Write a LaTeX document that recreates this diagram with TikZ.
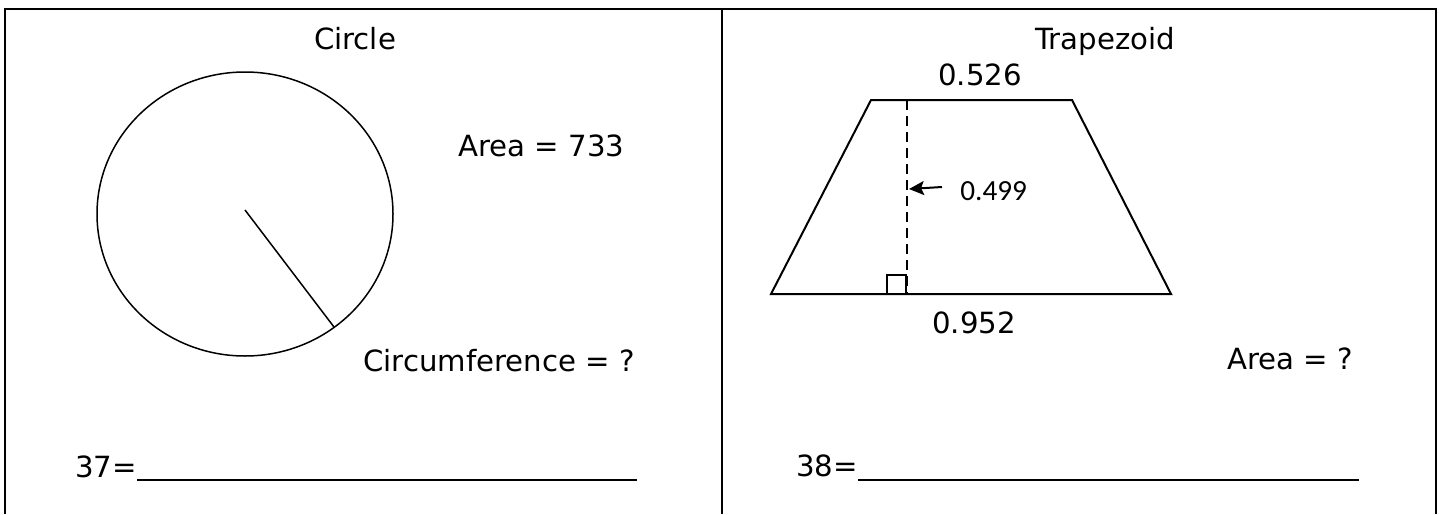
\documentclass[tikz,border=0pt]{standalone}
\usepackage{fontspec}
\setmainfont{DejaVu Sans}
\newfontfamily\labelfont{Carlito}
\usetikzlibrary{arrows.meta}
\begin{document}
\begin{tikzpicture}[x=0.5pt,y=-0.5pt]
    \tikzset{txt/.style = {inner sep = 0pt, font = \fontsize{14.6}{17}\selectfont}, edge/.style = {line width=1pt}, blank/.style = {line width=.75pt}}
    \useasboundingbox (0,0) rectangle (1439,514);
    \def\rx{148}
    \def\ry{142}
    % frame
    \draw[edge] (5,514) -- (5,9) -- (1436,9) -- (1436,514);
    \draw[edge] (722,9) -- (722,514);
    % circle panel
    \node[txt,anchor=base] (ctitle) at (355,49) {Circle};
    \coordinate (O) at (245,210);
    \draw[blank] (245,214) ellipse [x radius=\rx, y radius=\ry];
    \coordinate (R) at (334,327);
    \draw[blank] (O) -- (R);
    \node[txt,anchor=base west] (carea) at (458,156) {Area = 733};
    \node[txt,anchor=base west] (circ) at (363,371) {Circumference = ?};
    \node[txt,anchor=base west] (q37) at (75,477) {37=};
    \coordinate (q37end) at (637,480);
    \draw[blank] (q37.base east |- q37end) -- (q37end);
    % trapezoid panel
    \node[txt,anchor=base] (ttitle) at (1105,49) {Trapezoid};
    \node[txt,anchor=base] (top) at (980,85) {0.526};
    \coordinate (A) at (771,294);
    \coordinate (B) at (1171,294);
    \coordinate (C) at (1072,100);
    \coordinate (D) at (871,100);
    \draw[edge] (A) -- (B) -- (C) -- (D) -- cycle;
    \coordinate (H1) at (907,100);
    \coordinate (H2) at (907,294);
    \draw[edge,dashed,dash pattern=on 5pt off 3pt] (H1) -- (H2);
    \draw[edge] (887,294) rectangle (906,275);
    \node[inner sep=0pt,anchor=base west,font=\labelfont\fontsize{14.6}{17}\selectfont] (h) at (960,200) {0.499};
    \coordinate (P) at (942,187);
    \coordinate (Q) at (909,189);
    \draw[edge,-{Stealth[length=7.5pt,width=7pt,inset=1.5pt]}] (P) -- (Q);
    \node[txt,anchor=base] (bottom) at (974,333) {0.952};
    \node[txt,anchor=base west] (tarea) at (1227,369) {Area = ?};
    \node[txt,anchor=base west] (q38) at (796,476) {38=};
    \coordinate (q38end) at (1359,480);
    \draw[blank] (q38.base east |- q38end) -- (q38end);
\end{tikzpicture}
\end{document}
